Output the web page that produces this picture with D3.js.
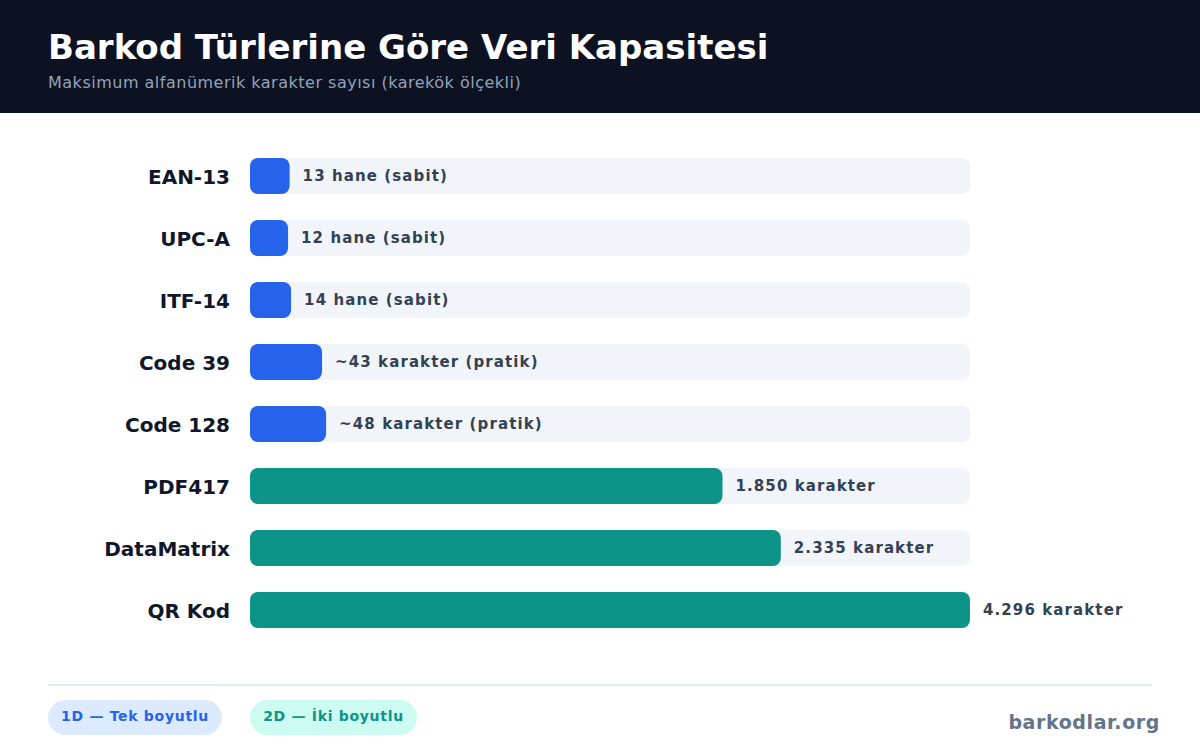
<!DOCTYPE html>
<html><head><meta charset="utf-8">
<script src="https://cdn.jsdelivr.net/npm/d3@7"></script>
<style>body{margin:0;background:#fff;font-family:"DejaVu Sans",sans-serif}</style>
</head><body><svg id="c" width="1200" height="756"></svg>
<script>
const categories=["EAN-13","UPC-A","ITF-14","Code 39","Code 128","PDF417","DataMatrix","QR Kod"];
const values=[13,12,14,43,48,1850,2335,4296];
const types=["1D","1D","1D","1D","1D","2D","2D","2D"];
const valueLabels=["13 hane (sabit)","12 hane (sabit)","14 hane (sabit)","~43 karakter (pratik)","~48 karakter (pratik)","1.850 karakter","2.335 karakter","4.296 karakter"];
const legendLabels=["1D — Tek boyutlu","2D — İki boyutlu"];
const colors={"1D":"#2563eb","2D":"#0d9488"};
const svg=d3.select("#c");
svg.append("rect").attr("width",1200).attr("height",113).attr("fill","#0c1222");
svg.append("text").attr("x",48).attr("y",59).attr("fill","#fff").attr("font-size",34).attr("font-weight","bold").text("Barkod Türlerine Göre Veri Kapasitesi");
svg.append("text").attr("x",48).attr("y",88).attr("fill","#94a3b8").attr("font-size",16).attr("letter-spacing",0.5).text("Maksimum alfanümerik karakter sayısı (karekök ölçekli)");
const x=d3.scaleSqrt().domain([0,d3.max(values)]).range([0,720]);
const y=d3.scaleBand().domain(categories).range([145,641]).paddingInner(0.42).paddingOuter(0.21);
const g=svg.append("g");
categories.forEach((c,i)=>{
  const yy=y(c),h=y.bandwidth();
  g.append("rect").attr("x",250).attr("y",yy).attr("width",720).attr("height",h).attr("rx",8).attr("fill","#f1f5f9");
  g.append("rect").attr("x",250).attr("y",yy).attr("width",x(values[i])).attr("height",h).attr("rx",8).attr("fill",colors[types[i]]);
  g.append("text").attr("x",230).attr("y",yy+h/2+1).attr("dy","0.35em").attr("text-anchor","end").attr("font-size",20).attr("font-weight","bold").attr("fill","#0f172a").text(c);
  g.append("text").attr("x",250+x(values[i])+13).attr("y",yy+h/2).attr("dy","0.35em").attr("font-size",15).attr("letter-spacing",1.1).attr("font-weight","bold").attr("fill","#334155").text(valueLabels[i]);
});
svg.append("line").attr("x1",48).attr("x2",1152).attr("y1",685).attr("y2",685).attr("stroke","#e2e8f0").attr("stroke-width",2);
const leg=[{x:48,w:174,bg:"#dbeafe",c:"#2563eb"},{x:250,w:167,bg:"#ccfbf1",c:"#0d9488"}];
leg.forEach((l,i)=>{
  svg.append("rect").attr("x",l.x).attr("y",700).attr("width",l.w).attr("height",35).attr("rx",17.5).attr("fill",l.bg);
  svg.append("text").attr("x",l.x+l.w/2).attr("y",716.5).attr("dy","0.35em").attr("text-anchor","middle").attr("font-size",14).attr("letter-spacing",0.7).attr("font-weight","bold").attr("fill",l.c).text(legendLabels[i]);
});
svg.append("text").attr("x",1160).attr("y",722).attr("dy","0.35em").attr("text-anchor","end").attr("font-size",19).attr("letter-spacing",0.6).attr("font-weight","bold").attr("fill","#64748b").text("barkodlar.org");
</script></body></html>
